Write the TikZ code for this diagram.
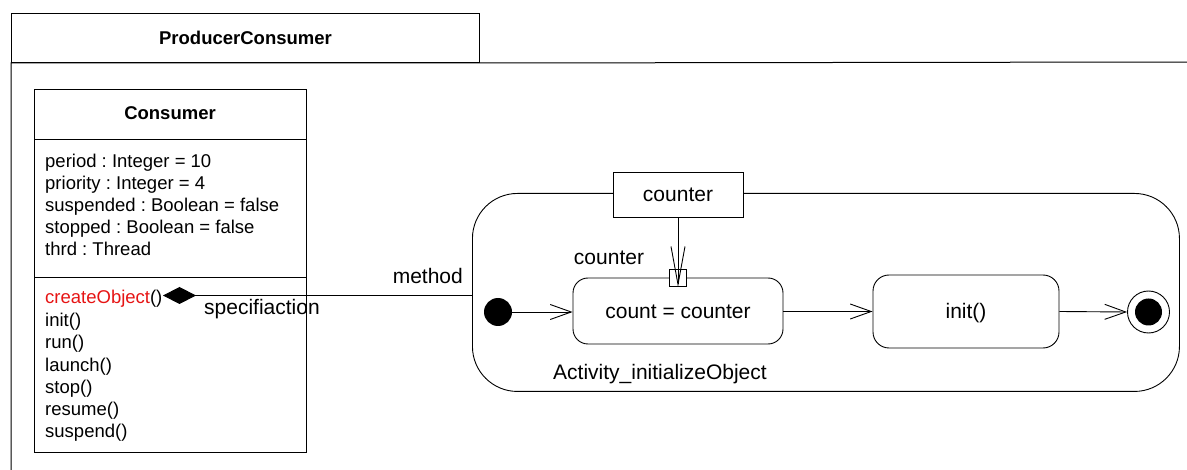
\documentclass[tikz,border=0pt]{standalone}
\usepackage{fontspec}
\setmainfont{Liberation Sans}
\usetikzlibrary{arrows.meta}
\frenchspacing
\definecolor{opred}{RGB}{230,20,20}
\tikzset{
  px/.style={x=1pt,y=-1pt},
  line/.style={draw=black, line width=0.9pt},
  ctext/.style={inner sep=0pt, font=\fontsize{18.5}{22}\selectfont, text height=13.3pt, text depth=0pt},
  atext/.style={inner sep=0pt, font=\fontsize{21}{25}\selectfont, text height=15pt, text depth=0pt},
  btext/.style={ctext, font=\fontsize{18.5}{22}\selectfont\bfseries},
  barb/.style={-{Straight Barb[length=21pt,width=15pt,line width=0.9pt]}},
  actbox/.style={line, rounded corners=15pt, fill=white, inner sep=0pt},
}
\begin{document}
\begin{tikzpicture}[px]
\useasboundingbox (0,0) rectangle (1187,470);
% frame
\node[line, line width=1pt, minimum width=468pt, minimum height=49pt, inner sep=0pt, anchor=north west] (tab) at (11,13) {};
\node[btext] (title) at (tab.center) {ProducerConsumer};
\coordinate (frR) at (1190,62);
\coordinate (frB) at (11,475);
\draw[line, line width=1pt] (frR) -- (tab.south east) -- (tab.south west) -- (frB);
% consumer class
\node[line, minimum width=272pt, minimum height=363pt, inner sep=0pt, anchor=north west] (cls) at (34,89) {};
\node[btext] (clsname) at (170,113) {Consumer};
\coordinate (d1L) at (34,139);
\coordinate (d1R) at (306,139);
\coordinate (d2L) at (34,277);
\coordinate (d2R) at (306,277);
\draw[line] (d1L) -- (d1R);
\draw[line] (d2L) -- (d2R);
\node[ctext, anchor=west] (a1) at (45,161) {period : Integer = 10};
\node[ctext, anchor=west] (a2) at (45,183) {priority : Integer = 4};
\node[ctext, anchor=west] (a3) at (45,205) {suspended : Boolean = false};
\node[ctext, anchor=west] (a4) at (45,227) {stopped : Boolean = false};
\node[ctext, anchor=west] (a5) at (45,249) {thrd : Thread};
\node[ctext, anchor=west] (o1) at (45,297) {\textcolor{opred}{createObject}()};
\node[ctext, anchor=west] (o2) at (45,320) {init()};
\node[ctext, anchor=west] (o3) at (45,342) {run()};
\node[ctext, anchor=west] (o4) at (45,365) {launch()};
\node[ctext, anchor=west] (o5) at (45,387) {stop()};
\node[ctext, anchor=west] (o6) at (45,409) {resume()};
\node[ctext, anchor=west] (o7) at (45,431) {suspend()};
% activity
\node[line, rounded corners=45pt, minimum width=707pt, minimum height=198pt, inner sep=0pt, anchor=north west] (act) at (472,193) {};
\node[line, fill=white, minimum width=130pt, minimum height=45pt, inner sep=0pt] (obj) at (678,194.5) {};
\node[atext] (objt) at (obj.center) {counter};
\node[actbox, minimum width=210pt, minimum height=66pt] (count) at (678,311) {};
\node[atext] (countt) at (count.center) {count = counter};
\node[line, fill=white, minimum width=17pt, minimum height=17pt, inner sep=0pt] (pin) at (678,278) {};
\node[actbox, rounded corners=16pt, minimum width=186pt, minimum height=73pt] (init) at (966,311.5) {};
\node[atext] (initt) at (init.center) {init()};
\node[circle, fill=black, minimum size=28pt, inner sep=0pt] (start) at (498,312) {};
\node[circle, line, minimum size=42pt, inner sep=0pt] (final) at (1148.5,312) {};
\node[circle, fill=black, minimum size=27pt, inner sep=0pt] (finalin) at (final.center) {};
\node[atext] (pinlbl) at (609,257) {counter};
\node[atext] (actname) at (660,372) {Activity\_initializeObject};
% connectors
\draw[line, -{Straight Barb[length=38pt,width=14pt,line width=0.9pt]}] (obj.south) -- (pin.south);
\draw[line, barb] (start) -- (count.west |- start);
\draw[line, barb] (count.east |- init) -- (init.west);
\draw[line, barb] (init.east) -- (final.west);
% specification link
\coordinate (dtip) at (163,295.5);
\draw[line, {Diamond[length=33pt,width=17pt]}-] (dtip) -- (dtip -| act.west);
\node[atext, anchor=east] (method) at (463,276) {method};
\node[atext] (spec) at (262,307) {specifiaction};
\end{tikzpicture}
\end{document}
